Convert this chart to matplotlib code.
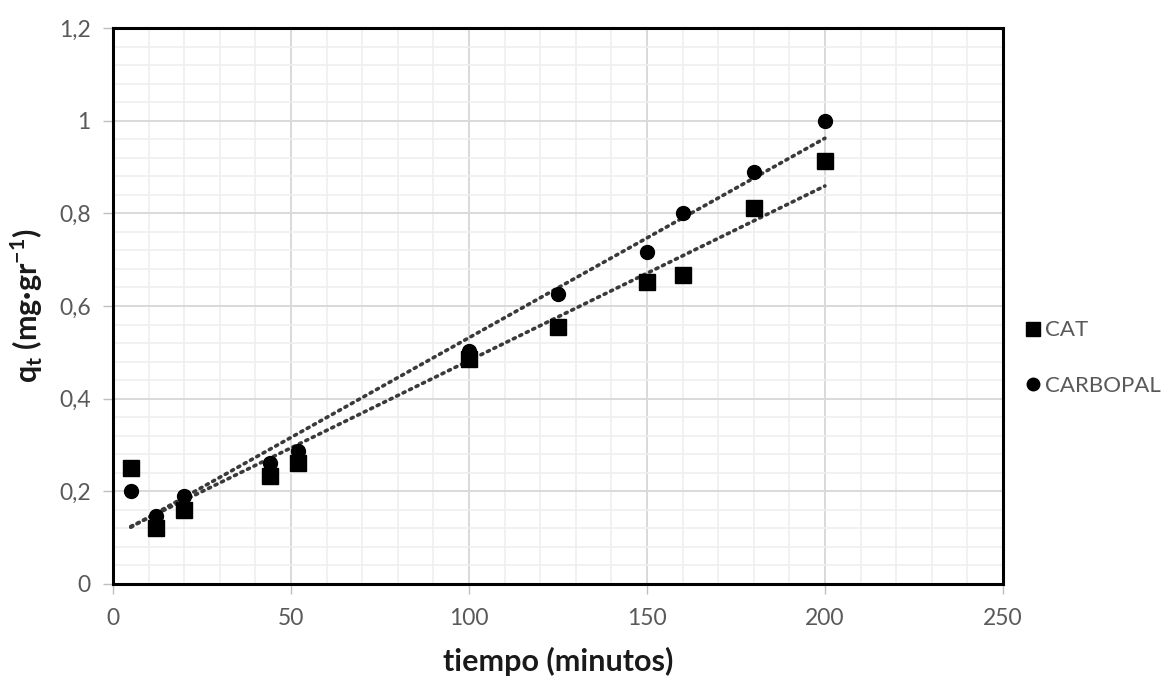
import numpy as np
import matplotlib
matplotlib.use("Agg")
import matplotlib.pyplot as plt
from matplotlib.ticker import MultipleLocator, FuncFormatter

# Data
tiempo = [5, 12, 20, 44, 52, 100, 125, 150, 160, 180, 200]
cat = [0.25, 0.12, 0.16, 0.233, 0.262, 0.485, 0.555, 0.652, 0.667, 0.812, 0.912]
carbopal = [0.20, 0.147, 0.19, 0.262, 0.287, 0.503, 0.627, 0.717, 0.80, 0.89, 1.0]
series_names = ["CAT", "CARBOPAL"]

plt.rcParams['font.family'] = ['Lato', 'DejaVu Sans']
plt.rcParams['mathtext.fontset'] = 'custom'
plt.rcParams['mathtext.rm'] = 'Lato'
plt.rcParams['mathtext.bf'] = 'Lato:bold'

fig = plt.figure(figsize=(11.73, 6.82), dpi=100)
ax = fig.add_axes([0.0963, 0.1437, 0.7587, 0.8152])

ax.set_xlim(0, 250)
ax.set_ylim(0, 1.2)
ax.xaxis.set_major_locator(MultipleLocator(50))
ax.xaxis.set_minor_locator(MultipleLocator(10))
ax.yaxis.set_major_locator(MultipleLocator(0.2))
ax.yaxis.set_minor_locator(MultipleLocator(0.04))
ax.grid(which='minor', color='#efefef', linewidth=1.2, zorder=0)
ax.grid(which='major', color='#d9d9d9', linewidth=1.4, zorder=0)
ax.set_axisbelow(True)

def fmt(v, pos):
    s = ('%.1f' % v).rstrip('0').rstrip('.')
    return s.replace('.', ',')
ax.yaxis.set_major_formatter(FuncFormatter(fmt))
ax.xaxis.set_major_formatter(FuncFormatter(lambda v, p: '%d' % v))

ax.tick_params(which='major', length=7, width=1, color='#bfbfbf', labelcolor='#595959', labelsize=16.5)
ax.tick_params(axis='y', pad=9)
ax.tick_params(axis='x', pad=10)
ax.tick_params(which='minor', length=0)

for sp in ax.spines.values():
    sp.set_linewidth(2.2)
    sp.set_color('black')

x = np.array(tiempo)
for vals, mk, ms, name in [(cat, 's', 11, series_names[0]), (carbopal, 'o', 10, series_names[1])]:
    ax.plot(x, vals, linestyle='none', marker=mk, markersize=ms, color='black', label=name, zorder=3)
    m, b = np.polyfit(x, vals, 1)
    xs = np.array([x.min(), x.max()])
    ax.plot(xs, m * xs + b, linestyle=(0, (0.6, 1.4)), linewidth=2.6, color='#3a3a3a',
            dash_capstyle='round', zorder=2)

ax.set_xlabel('tiempo (minutos)', fontsize=22, fontweight='bold', color='#1a1a1a', labelpad=13)
ax.set_ylabel(r'q$_\mathbf{t}$ (mg·gr$^{\mathbf{-1}}$)', fontsize=22, fontweight='bold',
              color='#1a1a1a', labelpad=10)

leg = ax.legend(loc='center left', bbox_to_anchor=(1.0, 0.406), frameon=False, fontsize=16,
                handletextpad=0.1, handlelength=0.9, labelspacing=1.6, markerscale=0.9,
                labelcolor='#595959')

fig.savefig('out.png', dpi=100)
